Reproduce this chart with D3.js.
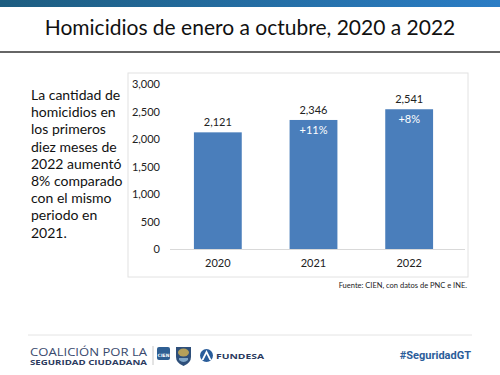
<!DOCTYPE html>
<html>
<head>
<meta charset="utf-8">
<script src="https://cdn.jsdelivr.net/npm/d3@7/dist/d3.min.js"></script>
<style>
  html, body { margin: 0; padding: 0; background: #fff; }
  svg { display: block; }
</style>
</head>
<body>
<div id="chart"></div>
<script>
const years = ['2020', '2021', '2022'];
const homicides = [2121, 2346, 2541];
const changeLabels = [null, '+11%', '+8%'];
const yTicks = [0, 500, 1000, 1500, 2000, 2500, 3000];
const noteLines = ['La cantidad de', 'homicidios en', 'los primeros', 'diez meses de',
  '2022 aumentó', '8% comparado', 'con el mismo', 'periodo en', '2021.'];

const width = 500;
const height = 375;
const fmt = d3.format(',');

const svg = d3.select('#chart').append('svg')
  .attr('width', width)
  .attr('height', height);

const defs = svg.append('defs');
const topGrad = defs.append('linearGradient').attr('id', 'top-band').attr('x1', '0%').attr('x2', '100%');
topGrad.append('stop').attr('offset', '0%').attr('stop-color', '#1d5d80');
topGrad.append('stop').attr('offset', '100%').attr('stop-color', '#2b7dc5');

// header
svg.append('rect').attr('x', 0).attr('y', 0).attr('width', width).attr('height', 7).attr('fill', 'url(#top-band)');
svg.append('text')
  .attr('x', 250).attr('y', 35)
  .attr('text-anchor', 'middle')
  .attr('font-family', 'Lato, sans-serif')
  .attr('font-size', 21)
  .attr('fill', '#111')
  .text('Homicidios de enero a octubre, 2020 a 2022');
svg.append('line').attr('x1', 0).attr('x2', width).attr('y1', 52).attr('y2', 52)
  .attr('stroke', '#333').attr('stroke-width', 1.5);

// side note
svg.append('text')
  .attr('font-family', 'Lato, sans-serif')
  .attr('font-size', 14)
  .attr('fill', '#111')
  .selectAll('tspan')
  .data(noteLines)
  .join('tspan')
  .attr('x', 31)
  .attr('y', (d, i) => 100 + i * 17.2)
  .text((d) => d);

// chart frame
svg.append('rect').attr('x', 128).attr('y', 73).attr('width', 340).attr('height', 204)
  .attr('fill', '#fff').attr('stroke', '#e2e2e2').attr('stroke-width', 1);

const x = d3.scaleBand().domain(years).range([170, 457]).paddingInner(0.5).paddingOuter(0.25);
const y = d3.scaleLinear().domain([0, 3000]).range([249, 84]);

const yAxis = svg.append('g')
  .attr('transform', 'translate(160,0)')
  .call(d3.axisLeft(y).tickValues(yTicks).tickFormat(fmt).tickSize(0).tickPadding(0));
yAxis.select('.domain').remove();
yAxis.selectAll('text')
  .attr('font-family', 'Lato, sans-serif')
  .attr('font-size', 11)
  .attr('fill', '#222');

const xAxis = svg.append('g')
  .attr('transform', 'translate(0,249)')
  .call(d3.axisBottom(x).tickSize(0).tickPadding(10));
xAxis.select('.domain').attr('stroke', '#d9d9d9').attr('d', 'M170,0.5H465');
xAxis.selectAll('text')
  .attr('font-family', 'Lato, sans-serif')
  .attr('font-size', 11)
  .attr('fill', '#222');

const bars = svg.append('g');
bars.selectAll('rect')
  .data(years)
  .join('rect')
  .attr('x', (d) => x(d))
  .attr('width', x.bandwidth())
  .attr('y', (d, i) => y(homicides[i]))
  .attr('height', (d, i) => y(0) - y(homicides[i]))
  .attr('fill', '#4a7ebb');

bars.selectAll('text.value')
  .data(years)
  .join('text')
  .attr('class', 'value')
  .attr('x', (d) => x(d) + x.bandwidth() / 2)
  .attr('y', (d, i) => y(homicides[i]) - 6)
  .attr('text-anchor', 'middle')
  .attr('font-family', 'Lato, sans-serif')
  .attr('font-size', 11)
  .attr('fill', '#222')
  .text((d, i) => fmt(homicides[i]));

bars.selectAll('text.change')
  .data(years.filter((d, i) => changeLabels[i]))
  .join('text')
  .attr('class', 'change')
  .attr('x', (d) => x(d) + x.bandwidth() / 2)
  .attr('y', (d) => y(homicides[years.indexOf(d)]) + 14)
  .attr('text-anchor', 'middle')
  .attr('font-family', 'Lato, sans-serif')
  .attr('font-size', 11)
  .attr('fill', '#fff')
  .text((d) => changeLabels[years.indexOf(d)]);

svg.append('text')
  .attr('x', 467).attr('y', 288)
  .attr('text-anchor', 'end')
  .attr('font-family', 'Lato, sans-serif')
  .attr('font-size', 7.5)
  .attr('fill', '#222')
  .text('Fuente: CIEN, con datos de PNC e INE.');

// footer
svg.append('line').attr('x1', 28).attr('x2', 472).attr('y1', 335).attr('y2', 335)
  .attr('stroke', '#e4e4e4').attr('stroke-width', 1);

const footer = svg.append('g');
footer.append('text')
  .attr('x', 30).attr('y', 356)
  .attr('font-family', 'Open Sans, sans-serif')
  .attr('font-size', 10)
  .attr('fill', '#3a4a6e')
  .attr('textLength', 117)
  .attr('lengthAdjust', 'spacingAndGlyphs')
  .text('COALICIÓN POR LA');
footer.append('text')
  .attr('x', 30).attr('y', 364.5)
  .attr('font-family', 'Open Sans, sans-serif')
  .attr('font-weight', 'bold')
  .attr('font-size', 7)
  .attr('fill', '#2b3a5e')
  .attr('textLength', 117)
  .attr('lengthAdjust', 'spacingAndGlyphs')
  .text('SEGURIDAD CIUDADANA');
footer.append('line').attr('x1', 153).attr('x2', 153).attr('y1', 346).attr('y2', 365)
  .attr('stroke', '#c8c8c8');

// CIEN logo
footer.append('rect').attr('x', 157).attr('y', 347).attr('width', 13).attr('height', 13).attr('rx', 2)
  .attr('fill', '#2f5f93');
footer.append('text').attr('x', 163.5).attr('y', 356.5).attr('text-anchor', 'middle')
  .attr('font-family', 'DejaVu Sans, sans-serif').attr('font-size', 4.5).attr('font-weight', 'bold')
  .attr('fill', '#fff').text('CIEN');

// badge logo
footer.append('path')
  .attr('d', 'M176,347 H191 V357 Q191,363 183.5,366 Q176,363 176,357 Z')
  .attr('fill', '#2e4f7a');
footer.append('ellipse').attr('cx', 183.5).attr('cy', 352.5).attr('rx', 5.5).attr('ry', 4)
  .attr('fill', '#b5a05a');
footer.append('path')
  .attr('d', 'M179,358 H188 V360 Q183.5,364 179,360 Z')
  .attr('fill', '#7fa6c8');

// FUNDESA logo
footer.append('circle').attr('cx', 206.5).attr('cy', 355.5).attr('r', 6.5).attr('fill', '#2a5d9a');
footer.append('path').attr('d', 'M201.5,360 L206.5,350 L211.5,360 L209.5,360 L206.5,354 L203.5,360 Z').attr('fill', '#fff');
footer.append('text')
  .attr('x', 216).attr('y', 358.5)
  .attr('font-family', 'Open Sans, sans-serif')
  .attr('font-weight', 'bold')
  .attr('font-size', 7.5)
  .attr('fill', '#2b3a5e')
  .attr('textLength', 48)
  .attr('lengthAdjust', 'spacingAndGlyphs')
  .text('FUNDESA');

footer.append('text')
  .attr('x', 471).attr('y', 359)
  .attr('text-anchor', 'end')
  .attr('font-family', 'Roboto, sans-serif')
  .attr('font-weight', 'bold')
  .attr('font-size', 11)
  .attr('fill', '#2b5d9a')
  .text('#SeguridadGT');
</script>
</body>
</html>
